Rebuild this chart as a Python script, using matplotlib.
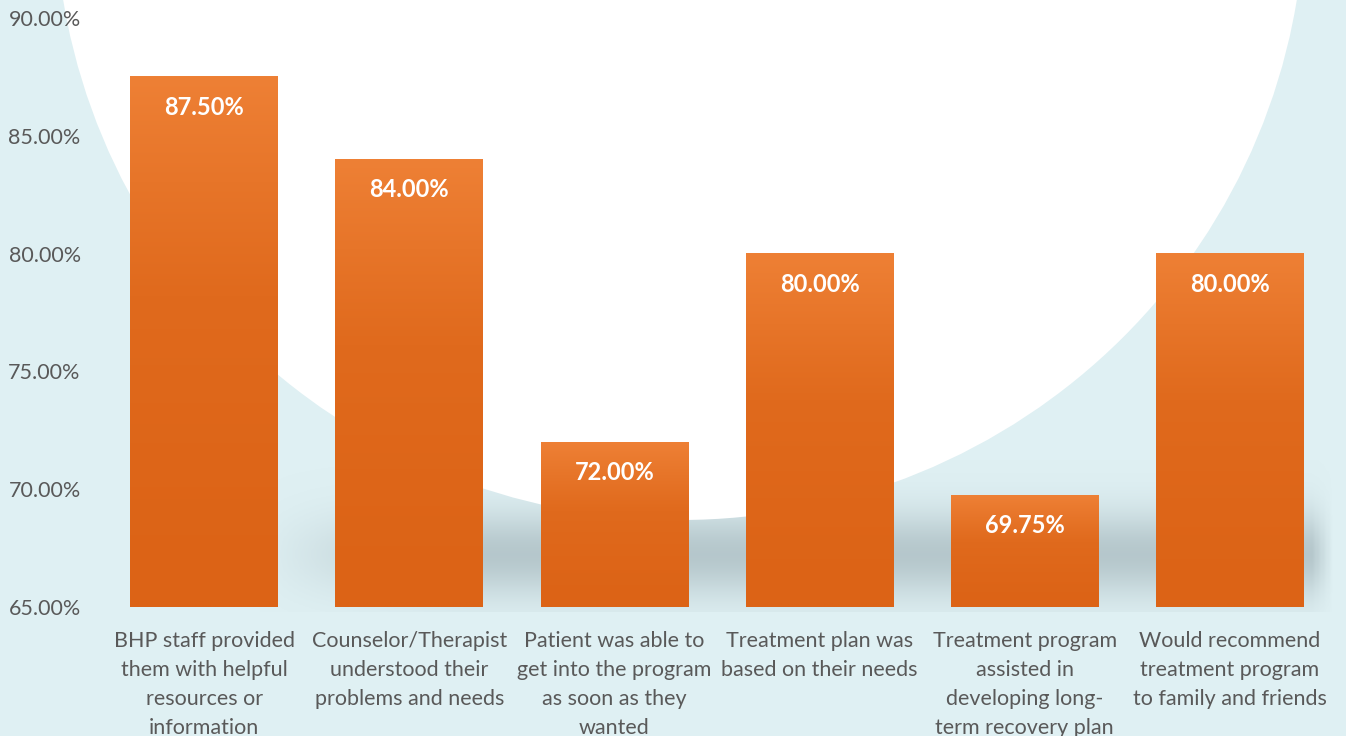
import numpy as np
import matplotlib.pyplot as plt
from matplotlib.patches import Ellipse
from matplotlib.colors import LinearSegmentedColormap
from matplotlib.ticker import FuncFormatter

categories = [
    "BHP staff provided\nthem with helpful\nresources or\ninformation",
    "Counselor/Therapist\nunderstood their\nproblems and needs",
    "Patient was able to\nget into the program\nas soon as they\nwanted",
    "Treatment plan was\nbased on their needs",
    "Treatment program\nassisted in\ndeveloping long-\nterm recovery plan",
    "Would recommend\ntreatment program\nto family and friends",
]
values = [87.50, 84.00, 72.00, 80.00, 69.75, 80.00]
y_ticks = [65, 70, 75, 80, 85, 90]

plt.rcParams['font.family'] = ['Lato', 'DejaVu Sans']

fig = plt.figure(figsize=(13.46, 7.36), dpi=100)
fig.patch.set_facecolor('#dff0f3')

# decorative background
bg = fig.add_axes([0, 0, 1, 1], zorder=-1)
bg.set_xlim(0, 1346)
bg.set_ylim(736, 0)
bg.axis('off')

# soft grey shadow band under the white swoosh
h, w = 140, 200
yy = np.linspace(0, 1, h)[:, None]
xx = np.linspace(0, 1, w)[None, :]
alpha = np.exp(-((yy - 0.62) / 0.28) ** 2) * np.clip(xx / 0.2, 0, 1) * np.clip((1 - xx) / 0.02, 0, 1)
shadow = np.zeros((h, w, 4))
shadow[..., 0] = 0.66
shadow[..., 1] = 0.73
shadow[..., 2] = 0.75
shadow[..., 3] = alpha * 0.75
bg.imshow(shadow, extent=[250, 1336, 612, 460], aspect='auto', zorder=1)

bg.add_patch(Ellipse((680, -100), 1250, 1240, facecolor='white', edgecolor='none', zorder=2))

ax = fig.add_axes([0.0754, 0.1753, 0.9146, 0.8003])
ax.set_facecolor('none')

x = np.arange(len(values))
bar_w = 0.72
grad_cmap = LinearSegmentedColormap.from_list('orange_grad', ['#dc6316', '#e06a1d', '#ee8035'])

for xi, v in zip(x, values):
    grad = np.linspace(0, 1, 256)[:, None] ** 1.3
    ax.imshow(grad, extent=[xi - bar_w / 2, xi + bar_w / 2, 65, v], origin='lower',
              aspect='auto', cmap=grad_cmap, vmin=0, vmax=1, zorder=2)
    ax.text(xi, v - 1.3, f"{v:.2f}%", ha='center', va='center', color='white',
            fontsize=17, fontweight='bold', zorder=3)

ax.set_xlim(-0.5, len(values) - 0.5)
ax.set_ylim(65, 90)
ax.set_yticks(y_ticks)
ax.yaxis.set_major_formatter(FuncFormatter(lambda v, p: f"{v:.2f}%"))
ax.set_xticks(x)
ax.set_xticklabels(categories, linespacing=1.58)
ax.tick_params(axis='both', length=0, colors='#595959', labelsize=15.5)
ax.tick_params(axis='x', pad=17)
ax.tick_params(axis='y', pad=15)
for s in ax.spines.values():
    s.set_visible(False)

fig.savefig('out.png', dpi=100, facecolor=fig.get_facecolor())
